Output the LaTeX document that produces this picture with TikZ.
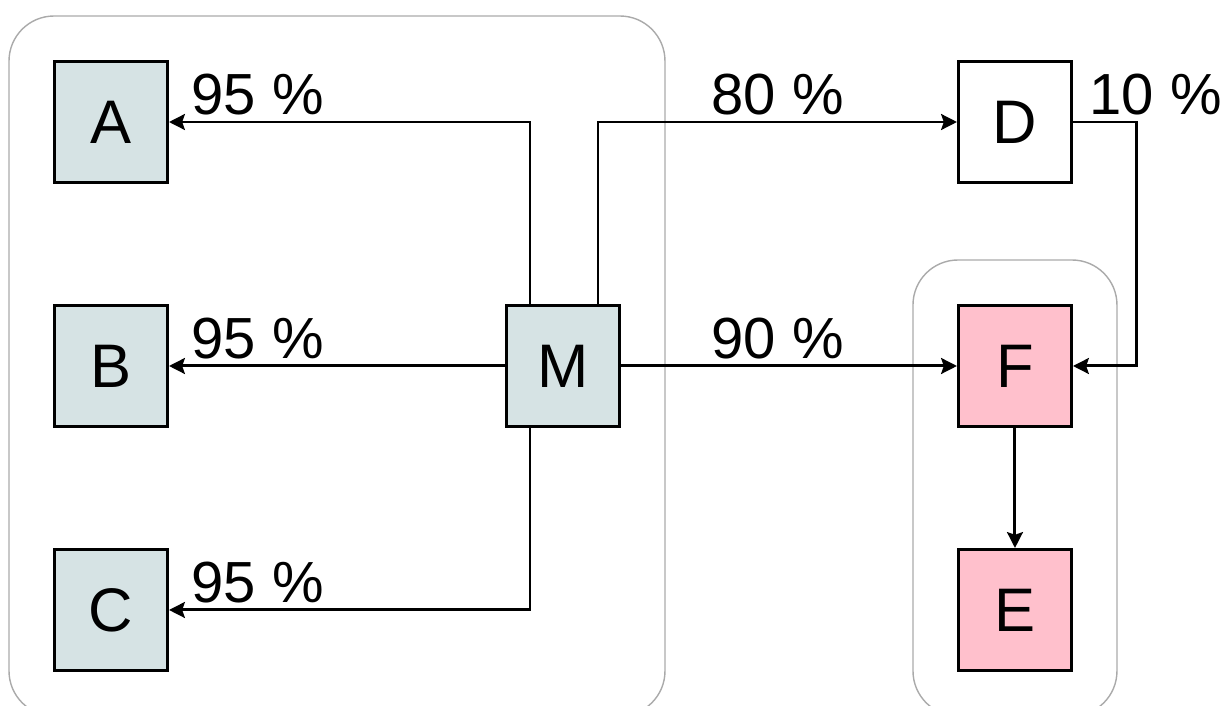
\documentclass[tikz,border=0pt]{standalone}
\usepackage{fontspec}
\setmainfont{Liberation Sans}
\usepackage{tikz}
\usetikzlibrary{arrows.meta, positioning, calc, fit}
\definecolor{boxgray}{RGB}{214,227,228}
\definecolor{boxpink}{RGB}{255,192,204}
\definecolor{framegray}{RGB}{170,170,170}

\begin{document}
\begin{tikzpicture}[>={Stealth[length=9pt,width=9pt,inset=1.5pt]}, line width=1.7pt]
    \tikzset{box/.style={draw, line width=1.7pt, minimum width=2.26cm, minimum height=2.42cm, text centered, font=\fontsize{35}{40}\selectfont},
        pct/.style={inner sep=0pt, font=\fontsize{33}{40}\selectfont},
        container/.style={draw=framegray, line width=0.8pt, rounded corners=0.9cm, inner sep=0.88cm}
    }
    \useasboundingbox (0,0) rectangle (24.54,14.1);

    \node (A) [box, fill=boxgray] at (2.22, 11.66) {A};
    \node (B) [box, fill=boxgray] [below=2.4cm of A] {B};
    \node (C) [box, fill=boxgray] [below=2.4cm of B] {C};
    \node (M) [box, fill=boxgray] [right=6.72cm of B] {M};
    \node (F) [box, fill=boxpink] [right=6.72cm of M] {F};
    \node (D) [box, fill=white] [above=2.4cm of F] {D};
    \node (E) [box, fill=boxpink] [below=2.4cm of F] {E};

    \node (Left-Container) [container] [fit=(A)(C)(M)] {};
    \node (Right-Container) [container] [fit=(F)(E)] {};

    \coordinate (D-Turn) at ($(D.east)+(1.28,0)$);

    \draw [->] ([xshift=-0.66cm]M.north) |- (A.east);
    \draw [->] (M.west) -- (B.east);
    \draw [->] ([xshift=-0.66cm]M.south) |- (C.east);
    \draw [->] ([xshift=0.7cm]M.north) |- (D.west);
    \draw [->] (M.east) -- (F.west);
    \draw [->] (D.east) -- (D-Turn) |- (F.east);
    \draw [->] (F.south) -- (E.north);

    \node (P-A) [pct] [above right=0.1cm and 0.42cm of A.east] {95 \%};
    \node (P-B) [pct] [above right=0.1cm and 0.42cm of B.east] {95 \%};
    \node (P-C) [pct] [above right=0.1cm and 0.42cm of C.east] {95 \%};
    \node (P-M) [pct] [above right=0.1cm and 1.78cm of M.east] {90 \%};
    \node (P-D) [pct, anchor=south west] at ($(P-M.south west |- D.west)+(0,0.1)$) {80 \%};
    \node (P-T) [pct] [above right=0.1cm and 0.3cm of D.east] {10 \%};
\end{tikzpicture}
\end{document}
